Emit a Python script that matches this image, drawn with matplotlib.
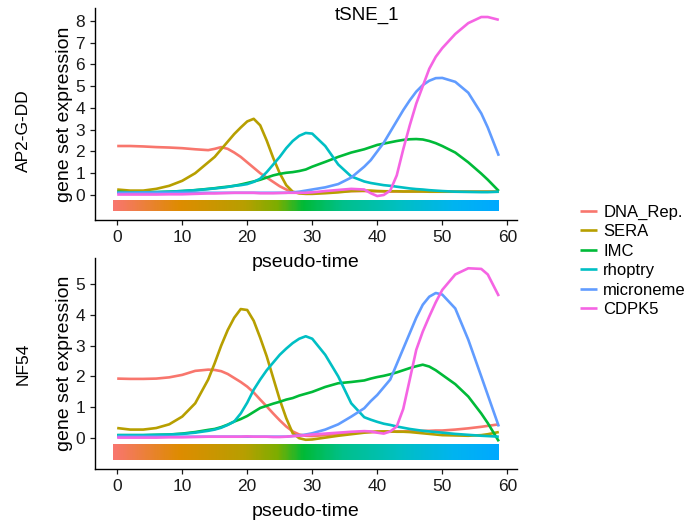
import matplotlib
matplotlib.use("Agg")
import matplotlib.pyplot as plt
from matplotlib.colors import LinearSegmentedColormap
import numpy as np

plt.rcParams['font.family'] = ['Liberation Sans', 'DejaVu Sans']

# pseudo-time grid the curves were read on
pseudotime = [0, 2, 4, 6, 8, 10, 12, 14, 15, 16, 17, 18, 19, 20, 21, 22, 23, 24, 25, 26,
              27, 28, 29, 30, 32, 34, 36, 38, 39, 40, 41, 42, 43, 44, 45, 46, 47, 48, 49, 50,
              52, 54, 56, 57, 58.7]

gene_sets = ["DNA_Rep.", "SERA", "IMC", "rhoptry", "microneme", "CDPK5"]
set_colors = ["#F8766D", "#B79F00", "#00BA38", "#00BFC4", "#619CFF", "#F564E3"]

# AP2-G-DD
ap2_dna = [2.25, 2.25, 2.23, 2.2, 2.18, 2.15, 2.1, 2.06, 2.12, 2.2, 2.12, 1.95, 1.75, 1.5, 1.25,
           1.0, 0.8, 0.6, 0.4, 0.25, 0.13, 0.1, 0.1, 0.1, 0.12, 0.15, 0.18, 0.18, 0.17, 0.17,
           0.17, 0.16, 0.16, 0.16, 0.16, 0.16, 0.16, 0.15, 0.15, 0.15, 0.15, 0.15, 0.15, 0.15, 0.15]
ap2_sera = [0.25, 0.2, 0.2, 0.28, 0.42, 0.65, 1.0, 1.5, 1.75, 2.1, 2.45, 2.8, 3.1, 3.38, 3.5,
            3.2, 2.5, 1.7, 1.0, 0.45, 0.15, 0.07, 0.05, 0.05, 0.08, 0.12, 0.18, 0.2, 0.2, 0.18,
            0.17, 0.17, 0.17, 0.16, 0.16, 0.16, 0.16, 0.15, 0.15, 0.15, 0.15, 0.15, 0.15, 0.15, 0.15]
ap2_imc = [0.15, 0.12, 0.12, 0.13, 0.15, 0.18, 0.22, 0.28, 0.31, 0.35, 0.38, 0.42, 0.48, 0.55, 0.62,
           0.7, 0.8, 0.9, 0.97, 1.02, 1.05, 1.1, 1.17, 1.3, 1.52, 1.75, 1.95, 2.1, 2.2, 2.3,
           2.36, 2.42, 2.48, 2.53, 2.56, 2.57, 2.55, 2.48, 2.38, 2.25, 1.95, 1.5, 0.98, 0.7, 0.18]
ap2_rhop = [0.1, 0.1, 0.12, 0.13, 0.15, 0.18, 0.22, 0.27, 0.3, 0.33, 0.37, 0.42, 0.45, 0.5, 0.6,
            0.75, 1.05, 1.4, 1.75, 2.15, 2.48, 2.72, 2.85, 2.82, 2.25, 1.4, 0.85, 0.62, 0.55, 0.5,
            0.45, 0.42, 0.38, 0.34, 0.3, 0.27, 0.25, 0.22, 0.2, 0.18, 0.15, 0.14, 0.13, 0.13, 0.15]
ap2_micro = [0.1, 0.1, 0.1, 0.1, 0.1, 0.1, 0.1, 0.1, 0.1, 0.1, 0.1, 0.1, 0.1, 0.1, 0.1,
             0.1, 0.1, 0.1, 0.1, 0.1, 0.12, 0.15, 0.2, 0.25, 0.35, 0.5, 0.8, 1.3, 1.6, 2.0,
             2.4, 2.9, 3.4, 3.9, 4.35, 4.75, 5.05, 5.25, 5.37, 5.38, 5.2, 4.7, 3.75, 3.1, 1.8]
ap2_cdpk5 = [0.02, 0.02, 0.02, 0.02, 0.03, 0.03, 0.05, 0.07, 0.07, 0.08, 0.09, 0.1, 0.1, 0.1, 0.1,
             0.08, 0.08, 0.08, 0.09, 0.1, 0.1, 0.1, 0.1, 0.12, 0.18, 0.23, 0.28, 0.25, 0.08, -0.05,
             0.0, 0.2, 0.9, 2.1, 3.2, 4.2, 5.0, 5.8, 6.35, 6.75, 7.4, 7.9, 8.18, 8.18, 8.05]

# NF54
nf54_dna = [1.93, 1.92, 1.92, 1.93, 1.97, 2.05, 2.18, 2.22, 2.21, 2.17, 2.08, 1.95, 1.82, 1.67, 1.48,
            1.25, 1.03, 0.8, 0.58, 0.38, 0.22, 0.12, 0.08, 0.07, 0.1, 0.14, 0.18, 0.2, 0.2, 0.2,
            0.21, 0.21, 0.22, 0.22, 0.23, 0.23, 0.24, 0.24, 0.25, 0.25, 0.28, 0.32, 0.37, 0.4, 0.45]
nf54_sera = [0.33, 0.28, 0.28, 0.33, 0.45, 0.7, 1.13, 1.9, 2.43, 3.0, 3.5, 3.9, 4.18, 4.15, 3.8,
             3.25, 2.65, 1.95, 1.25, 0.65, 0.16, 0.0, -0.05, -0.04, 0.02, 0.08, 0.13, 0.18, 0.2, 0.22,
             0.22, 0.22, 0.21, 0.21, 0.2, 0.18, 0.16, 0.14, 0.12, 0.1, 0.09, 0.08, 0.1, 0.13, 0.2]
nf54_imc = [0.1, 0.1, 0.1, 0.11, 0.12, 0.15, 0.2, 0.27, 0.3, 0.36, 0.44, 0.54, 0.62, 0.72, 0.85,
            0.98, 1.05, 1.12, 1.18, 1.25, 1.3, 1.38, 1.44, 1.5, 1.66, 1.78, 1.82, 1.87, 1.93, 1.98,
            2.02, 2.07, 2.13, 2.2, 2.27, 2.33, 2.38, 2.32, 2.2, 2.05, 1.75, 1.35, 0.8, 0.49, -0.1]
nf54_rhop = [0.1, 0.1, 0.1, 0.11, 0.12, 0.14, 0.18, 0.24, 0.28, 0.34, 0.43, 0.54, 0.8, 1.15, 1.57,
             1.9, 2.2, 2.45, 2.7, 2.9, 3.08, 3.22, 3.3, 3.22, 2.7, 2.0, 1.13, 0.68, 0.6, 0.53,
             0.47, 0.43, 0.38, 0.34, 0.3, 0.27, 0.24, 0.22, 0.2, 0.18, 0.14, 0.11, 0.08, 0.07, 0.05]
nf54_micro = [0.05, 0.05, 0.05, 0.05, 0.05, 0.05, 0.05, 0.05, 0.05, 0.05, 0.05, 0.05, 0.05, 0.05, 0.05,
              0.05, 0.05, 0.05, 0.05, 0.05, 0.07, 0.09, 0.12, 0.16, 0.28, 0.45, 0.7, 0.97, 1.2, 1.4,
              1.65, 1.9, 2.4, 2.9, 3.4, 3.9, 4.32, 4.58, 4.7, 4.65, 4.2, 3.19, 2.0, 1.4, 0.38]
nf54_cdpk5 = [0.02, 0.02, 0.02, 0.02, 0.03, 0.03, 0.04, 0.05, 0.05, 0.05, 0.05, 0.05, 0.05, 0.06, 0.05,
              0.05, 0.05, 0.04, 0.04, 0.05, 0.07, 0.08, 0.1, 0.12, 0.15, 0.18, 0.21, 0.23, 0.22, 0.18,
              0.15, 0.22, 0.38, 0.95, 1.9, 2.86, 3.45, 3.94, 4.4, 4.8, 5.3, 5.5, 5.48, 5.3, 4.6]

panels = [
    ("AP2-G-DD", [ap2_dna, ap2_sera, ap2_imc, ap2_rhop, ap2_micro, ap2_cdpk5], (-1.15, 8.6), range(0, 9)),
    ("NF54", [nf54_dna, nf54_sera, nf54_imc, nf54_rhop, nf54_micro, nf54_cdpk5], (-0.99, 5.84), range(0, 6)),
]

# colour strip under the curves (pseudo-time coloured)
strip_t = [0, 10, 20, 25, 29, 35, 44, 52, 58.7]
strip_colors = ["#F8766D", "#DE8C00", "#B79F00", "#7CAE00", "#00BA38", "#00C08B", "#00BFC4", "#00B4F0", "#00A9FF"]
strip_x = (-0.6, 58.7)
strip_y = (-0.72, -0.22)

fig = plt.figure(figsize=(6.94, 5.25), dpi=100)
ax_top = fig.add_axes([0.137, 0.581, 0.608, 0.404])
ax_bot = fig.add_axes([0.137, 0.107, 0.608, 0.402])

pos = [(t - strip_t[0]) / (strip_t[-1] - strip_t[0]) for t in strip_t]
cmap = LinearSegmentedColormap.from_list("ptime", list(zip(pos, strip_colors)))

for ax, (row_name, series, ylim, yticks) in zip([ax_top, ax_bot], panels):
    ax.set_facecolor('none')
    ax.imshow(np.linspace(0, 1, 300).reshape(1, -1), cmap=cmap, aspect='auto',
              extent=(strip_x[0], strip_x[1], strip_y[0], strip_y[1]), zorder=1)
    for name, vals, col in zip(gene_sets, series, set_colors):
        ax.plot(pseudotime, vals, color=col, lw=1.9, label=name, zorder=2,
                solid_joinstyle='round', solid_capstyle='butt')

    ax.set_xlim(-3.4, 61.5)
    ax.set_ylim(*ylim)
    ax.set_xticks(range(0, 61, 10))
    ax.set_yticks(list(yticks))
    ax.spines['top'].set_visible(False)
    ax.spines['right'].set_visible(False)
    ax.spines['left'].set_linewidth(1.0)
    ax.spines['bottom'].set_linewidth(1.0)
    ax.tick_params(length=3.6, width=0.9, pad=3.5, labelsize=12.5, colors='#1a1a1a')
    ax.set_xlabel("pseudo-time", fontsize=14, labelpad=6.5)
    ax.set_ylabel("gene set expression", fontsize=14, labelpad=2)

fig.text(367 / 694, 1 - 15 / 525, "tSNE_1", fontsize=13.5, ha='center', va='center')
fig.text(23 / 694, 1 - 131 / 525, "AP2-G-DD", fontsize=12.5, rotation=90, ha='center', va='center')
fig.text(23 / 694, 1 - 364 / 525, "NF54", fontsize=12.5, rotation=90, ha='center', va='center')

handles, labels = ax_top.get_legend_handles_labels()
fig.legend(handles, labels, loc='center left', bbox_to_anchor=(580 / 694, 1 - 261 / 525),
           frameon=False, fontsize=12, handlelength=1.0, handletextpad=0.4,
           labelspacing=0.27, borderpad=0, borderaxespad=0)

fig.savefig("out.png", dpi=100)
